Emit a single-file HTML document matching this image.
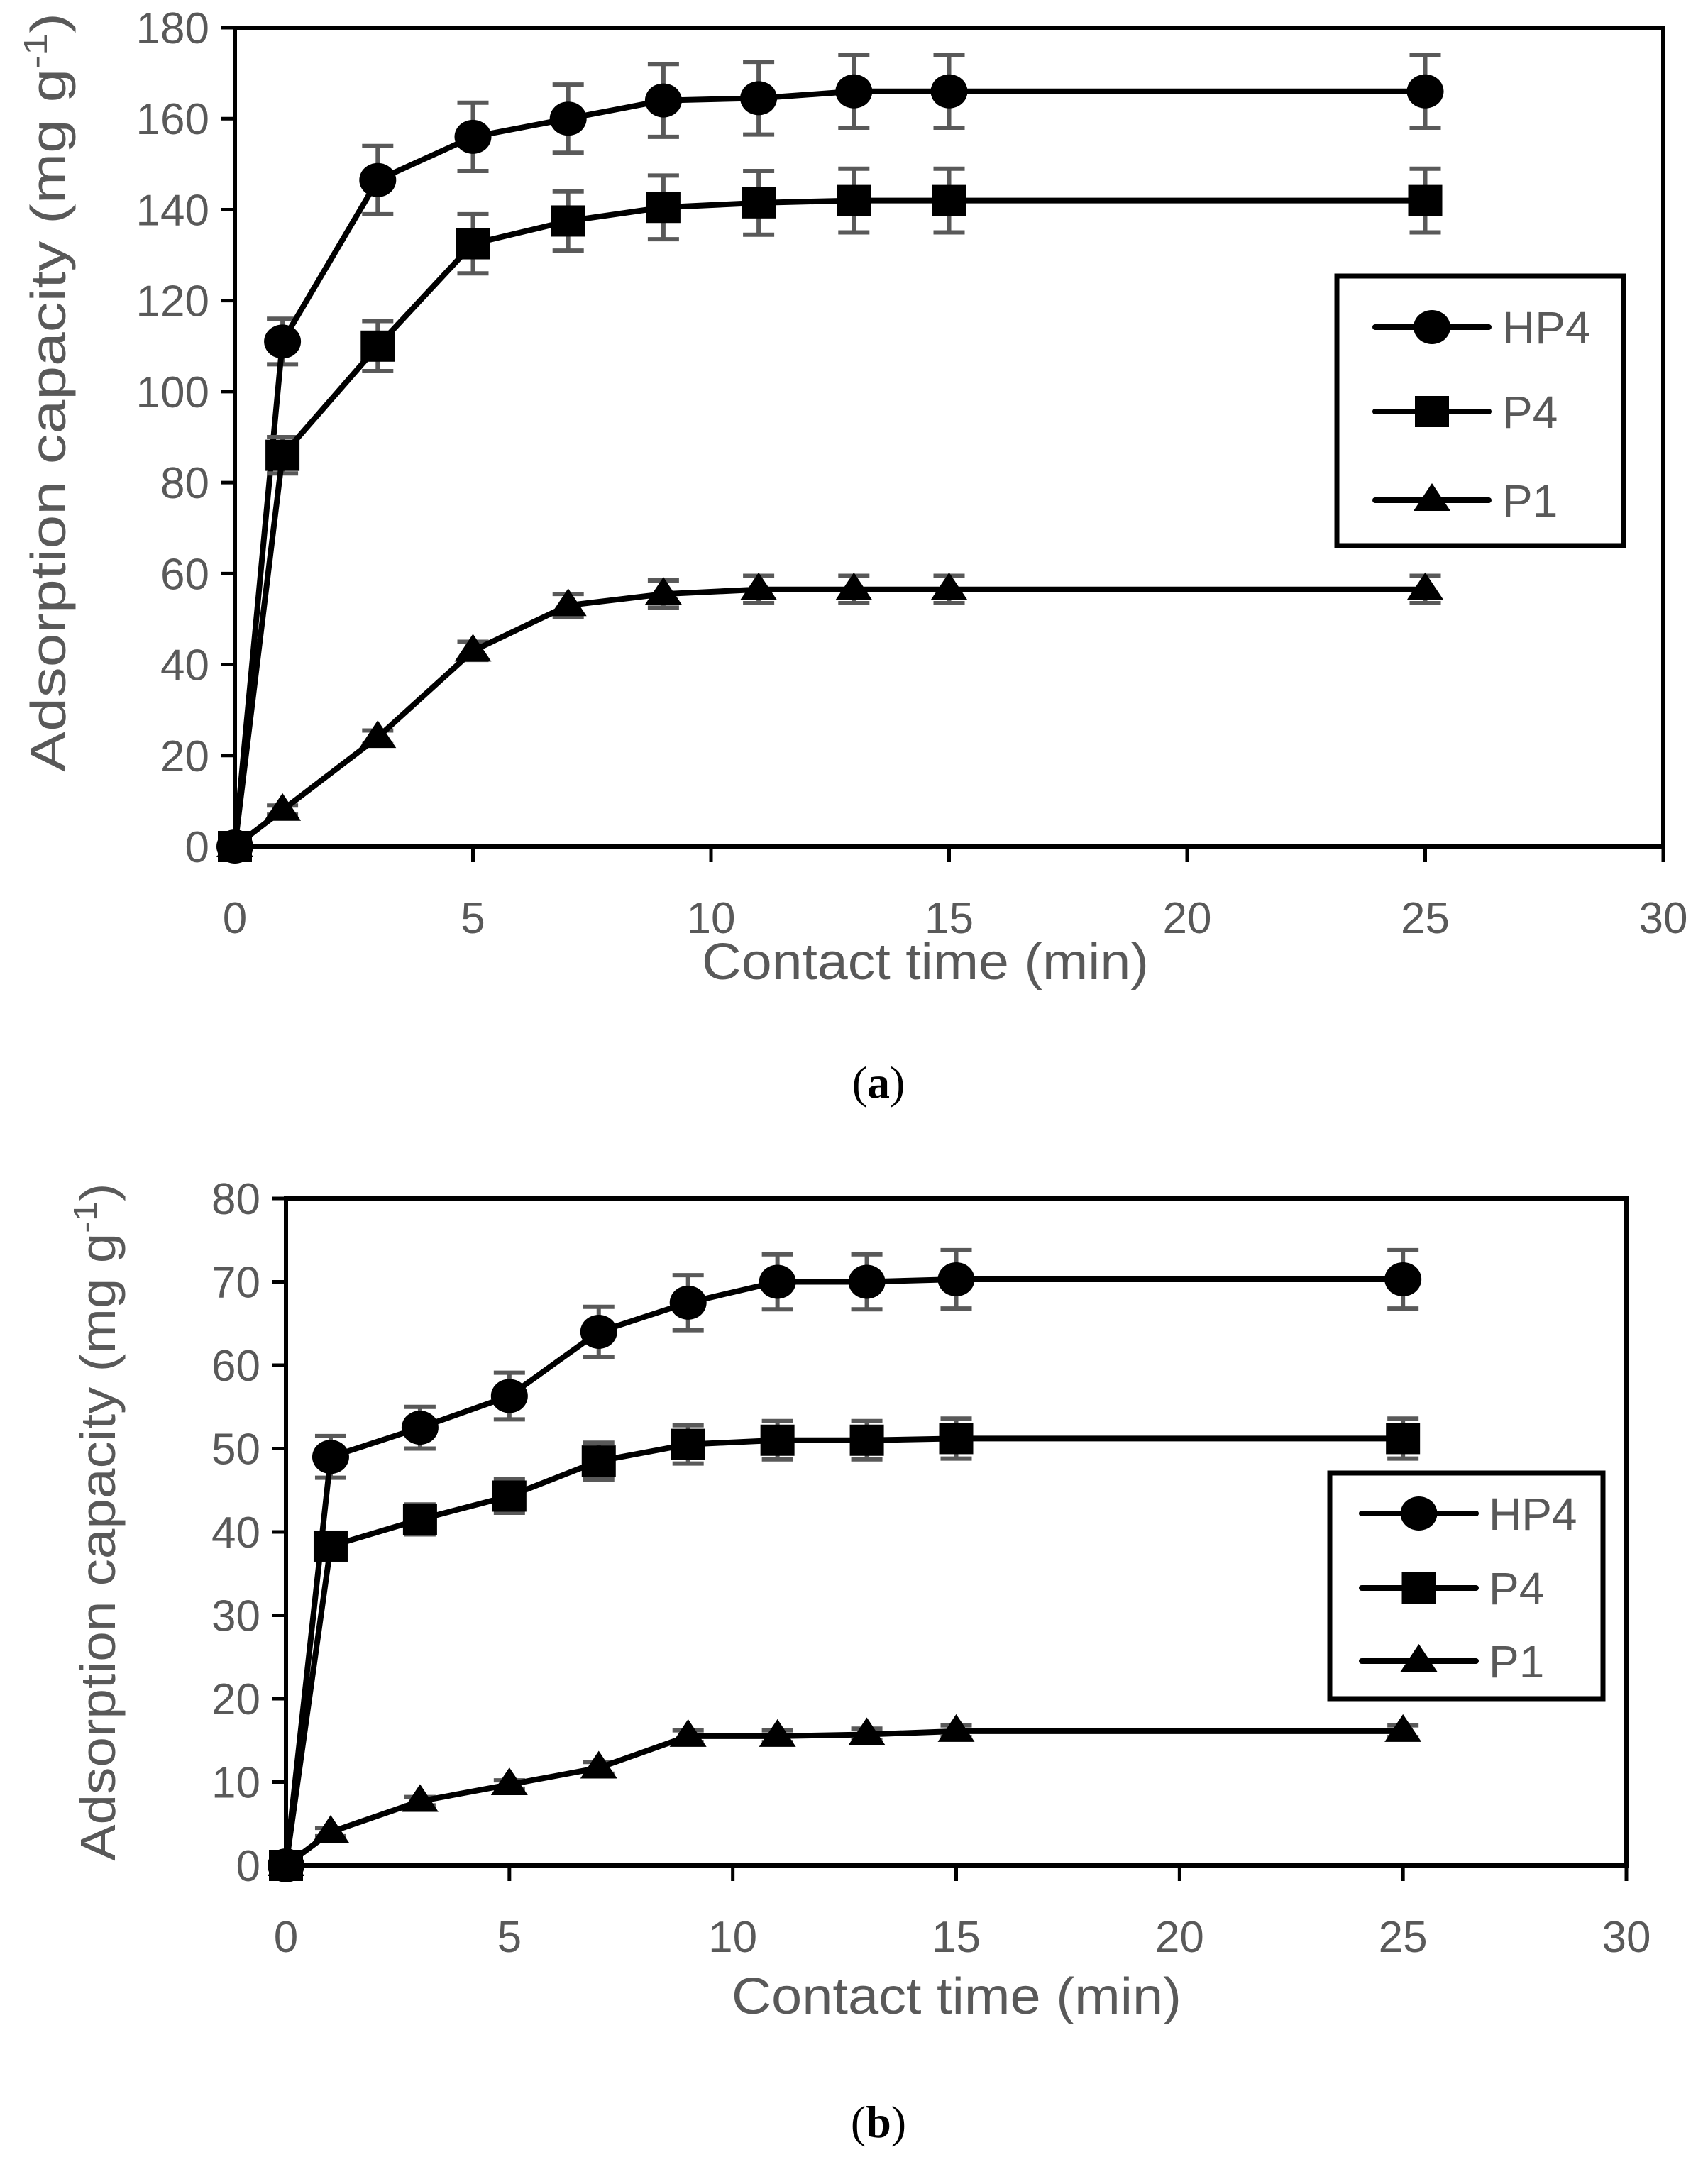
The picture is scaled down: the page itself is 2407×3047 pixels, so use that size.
<!DOCTYPE html>
<html><head><meta charset="utf-8"><style>
html,body{margin:0;padding:0;background:#fff;}
svg{display:block;}
</style></head><body>
<svg id="s" width="2407" height="3047" viewBox="0 0 2407 3047" xmlns="http://www.w3.org/2000/svg"></svg>
<script>
const S=document.getElementById('s');let h='';
const G='#595959';
function chart(c){
  const X=v=>c.x0+(c.x1-c.x0)*v/30, Y=v=>c.y0-(c.y0-c.y1)*v/c.ymax;
  h+=`<rect x="${c.x0}" y="${c.y1}" width="${c.x1-c.x0}" height="${c.y0-c.y1}" fill="none" stroke="#000" stroke-width="6"/>`;
  for(let v=0;v<=c.ymax;v+=c.ystep){const y=Y(v);
    h+=`<line x1="${c.x0-20}" y1="${y}" x2="${c.x0}" y2="${y}" stroke="#000" stroke-width="5"/>`;
    h+=`<text x="${c.x0-36}" y="${y+22}" text-anchor="end" font-family="Liberation Sans,sans-serif" font-size="62" fill="${G}">${v}</text>`;}
  for(let v=0;v<=30;v+=5){const x=X(v);
    h+=`<line x1="${x}" y1="${c.y0}" x2="${x}" y2="${c.y0+22}" stroke="#000" stroke-width="5"/>`;
    h+=`<text x="${x}" y="${c.y0+122}" text-anchor="middle" font-family="Liberation Sans,sans-serif" font-size="62" fill="${G}">${v}</text>`;}
  h+=`<text x="${c.xt[0]}" y="${c.xt[1]}" text-anchor="middle" font-family="Liberation Sans,sans-serif" font-size="72" fill="${G}" textLength="${c.xt[2]}" lengthAdjust="spacingAndGlyphs">Contact time (min)</text>`;
  h+=`<text transform="translate(${c.yt[0]},${c.yt[1]}) rotate(-90)" text-anchor="middle" font-family="Liberation Sans Narrow,Liberation Sans,sans-serif" font-size="70" fill="${G}" textLength="${c.yt[2]}" lengthAdjust="spacingAndGlyphs">Adsorption capacity (mg g<tspan dy="-26" font-size="46">-1</tspan><tspan dy="26">)</tspan></text>`;
  const t=[0,1,3,5,7,9,11,13,15,25];
  c.series.forEach(s=>{
    t.forEach((tt,i)=>{if(i==0)return;const x=X(tt),e=s.e[i]*(c.y0-c.y1)/c.ymax,y=Y(s.v[i]);
      h+=`<g stroke="${G}" stroke-width="6"><line x1="${x}" y1="${y-e}" x2="${x}" y2="${y+e}"/><line x1="${x-22}" y1="${y-e}" x2="${x+22}" y2="${y-e}"/><line x1="${x-22}" y1="${y+e}" x2="${x+22}" y2="${y+e}"/></g>`;});
    h+=`<polyline fill="none" stroke="#000" stroke-width="8" stroke-linejoin="round" points="${t.map((tt,i)=>X(tt)+','+Y(s.v[i])).join(' ')}"/>`;
    t.forEach((tt,i)=>mark(s.m,X(tt),Y(s.v[i])));
  });
  const L=c.leg;
  h+=`<rect x="${L.x}" y="${L.y}" width="${L.w}" height="${L.h}" fill="#fff" stroke="#000" stroke-width="7"/>`;
  ['HP4','P4','P1'].forEach((n,i)=>{const y=L.rows[i];
    h+=`<line x1="${L.l1}" y1="${y}" x2="${L.l2}" y2="${y}" stroke="#000" stroke-width="8" stroke-linecap="round"/>`;
    mark(['c','s','t'][i],(L.l1+L.l2)/2,y);
    h+=`<text x="${L.tx}" y="${y+23}" font-family="Liberation Sans,sans-serif" font-size="64" fill="${G}">${n}</text>`;});
}
function mark(m,x,y){
  if(m=='c')h+=`<ellipse cx="${x}" cy="${y}" rx="26" ry="24" fill="#000"/>`;
  else if(m=='s')h+=`<rect x="${x-24}" y="${y-22}" width="48" height="44" fill="#000"/>`;
  else h+=`<polygon points="${x-26},${y+15} ${x+26},${y+15} ${x},${y-24}" fill="#000"/>`;
}
chart({x0:331,x1:2344,y0:1193,y1:39,ymax:180,ystep:20,
  xt:[1304,1380,630],yt:[92,553,1070],
  series:[
   {m:'c',v:[0,111,146.5,156,160,164,164.5,166,166,166],e:[0,5,7.5,7.5,7.5,8,8,8,8,8]},
   {m:'s',v:[0,86,110,132.5,137.5,140.5,141.5,142,142,142],e:[0,4,5.5,6.5,6.5,7,7,7,7,7]},
   {m:'t',v:[0,8,24,43,53,55.5,56.5,56.5,56.5,56.5],e:[0,1,1.5,2,2.5,3,3,3,3,3]}],
  leg:{x:1884,y:389,w:404,h:380,rows:[461,580,705],l1:1938,l2:2098,tx:2117}});
chart({x0:403,x1:2292,y0:2629,y1:1689,ymax:80,ystep:10,
  xt:[1348,2838,634],yt:[162,2145,955],
  series:[
   {m:'c',v:[0,49,52.5,56.3,64,67.5,70,70,70.3,70.3],e:[0,2.5,2.5,2.8,3,3.3,3.3,3.3,3.5,3.5]},
   {m:'s',v:[0,38.3,41.5,44.3,48.5,50.5,51,51,51.2,51.2],e:[0,1.2,1.8,2,2.2,2.3,2.3,2.3,2.4,2.4]},
   {m:'t',v:[0,4,7.7,9.7,11.7,15.5,15.5,15.7,16.1,16.1],e:[0,0.5,0.5,0.5,0.7,0.7,0.7,0.7,0.7,0.7]}],
  leg:{x:1874,y:2076,w:385,h:318,rows:[2133,2238,2341],l1:1919,l2:2080,tx:2098}});
h+=`<text x="1238" y="1547" text-anchor="middle" font-family="Liberation Serif,serif" font-size="64" fill="#000">(<tspan font-weight="bold">a</tspan>)</text>`;
h+=`<text x="1238" y="3012" text-anchor="middle" font-family="Liberation Serif,serif" font-size="64" fill="#000">(<tspan font-weight="bold">b</tspan>)</text>`;
S.innerHTML=h;
</script>
</body></html>
